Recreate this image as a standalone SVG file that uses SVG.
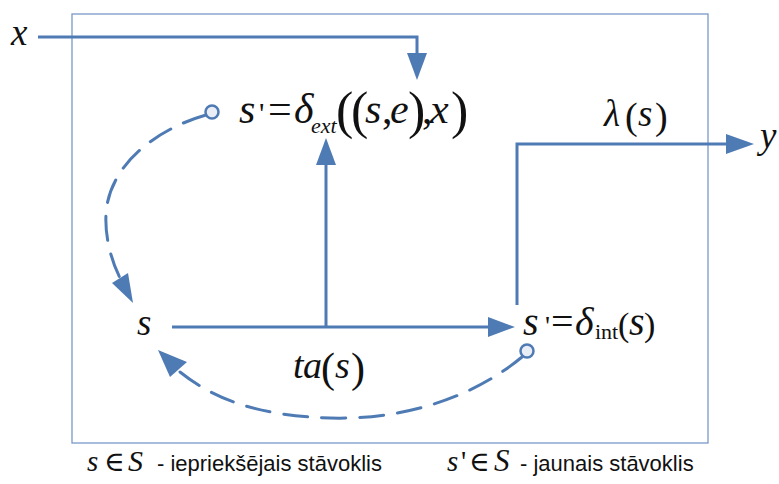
<svg xmlns="http://www.w3.org/2000/svg" width="779" height="484" viewBox="0 0 779 484">
<style>
.m{font-family:'Liberation Serif','DejaVu Serif',serif;font-size:37px;fill:#111}
.i{font-style:italic}
.sans{font-family:'Liberation Sans',Arial,sans-serif;font-size:22px;fill:#111}
.ln{fill:none;stroke:#4F7BB5;stroke-width:3}
.dash{fill:none;stroke:#4F7BB5;stroke-width:3;stroke-dasharray:24 14;stroke-linecap:round}
.ah{fill:#4F7BB5}
.dot{fill:#E9EDF5;stroke:#4F7BB5;stroke-width:2.5}
</style>
<rect id="box" x="72" y="14" width="636" height="429" fill="#fff" stroke="#7A98C9" stroke-width="1.3"/>
<g id="connectors">
  <path class="ln" d="M38,37 H417 V54"/>
  <polygon class="ah" points="407,53 427,53 417,80"/>
  <path class="ln" d="M326,327 V164"/>
  <polygon class="ah" points="316,165 336,165 326,138"/>
  <path class="ln" d="M172,327 H489"/>
  <polygon class="ah" points="488,317 488,337 515,327"/>
  <path class="ln" d="M517,305 V144 H727"/>
  <polygon class="ah" points="726,134 726,154 754,144"/>
  <path class="dash" d="M206,115 C160,128 115,160 107,205 C103,230 110,258 120,278"/>
  <polygon class="ah" points="112,283 128,273 133,303"/>
  <circle class="dot" cx="212" cy="112" r="6.5"/>
  <path class="dash" d="M522,357 C470,400 400,420 330,418 C260,416 215,400 180,372"/>
  <polygon class="ah" points="170,377 187,362 158,350"/>
  <circle class="dot" cx="527" cy="351" r="6.5"/>
</g>
<g id="input-x"><text class="m i" x="11" y="45">x</text></g>
<g id="output-y"><text class="m i" x="760" y="148">y</text></g>
<g id="delta-ext">
  <text class="m" y="123" style="font-size:42px"><tspan class="i" x="239">s</tspan><tspan x="259" style="font-size:30px">'</tspan><tspan x="268">=</tspan><tspan class="i" x="294">δ</tspan><tspan class="i" x="311" y="133" style="font-size:22px">ext</tspan><tspan x="336" y="128" style="font-size:52px">(</tspan><tspan x="351" style="font-size:52px">(</tspan><tspan class="i" x="365" y="123">s</tspan><tspan x="382">,</tspan><tspan class="i" x="390">e</tspan><tspan x="408" y="128" style="font-size:52px">)</tspan><tspan x="422" y="123">,</tspan><tspan class="i" x="430">x</tspan><tspan x="451" y="128" style="font-size:52px">)</tspan></text>
</g>
<g id="lambda">
  <text class="m" y="126"><tspan class="i" x="604">λ</tspan><tspan x="625" y="129" style="font-size:38px">(</tspan><tspan class="i" x="638" y="126">s</tspan><tspan x="655" y="129" style="font-size:38px">)</tspan></text>
</g>
<g id="state-s"><text class="m i" x="137" y="335">s</text></g>
<g id="delta-int">
  <text class="m" y="335" style="font-size:40px"><tspan class="i" x="523">s</tspan><tspan x="545" style="font-size:28px">'</tspan><tspan x="551">=</tspan><tspan class="i" x="575">δ</tspan><tspan x="595" y="339" style="font-size:22px">int</tspan><tspan x="618" y="336" style="font-size:34px">(</tspan><tspan class="i" x="629" y="335">s</tspan><tspan x="644" y="336" style="font-size:34px">)</tspan></text>
</g>
<g id="ta">
  <text class="m" y="378" style="font-size:38px"><tspan class="i" x="293">t</tspan><tspan class="i" x="303">a</tspan><tspan x="321" y="382" style="font-size:42px">(</tspan><tspan class="i" x="335" y="378">s</tspan><tspan x="351" y="382" style="font-size:42px">)</tspan></text>
</g>
<g id="legend">
  <text class="m" y="471" style="font-size:29px"><tspan class="i" x="87">s</tspan><tspan x="104" style="font-size:28px">∈</tspan><tspan class="i" x="128" style="font-size:30px">S</tspan></text>
  <text class="sans" x="157" y="471">- iepriekšējais stāvoklis</text>
  <text class="m" y="471" style="font-size:29px"><tspan class="i" x="447">s</tspan><tspan x="461">'</tspan><tspan x="469" style="font-size:28px">∈</tspan><tspan class="i" x="494" style="font-size:31px">S</tspan></text>
  <text class="sans" x="520" y="471">- jaunais stāvoklis</text>
</g>
</svg>
